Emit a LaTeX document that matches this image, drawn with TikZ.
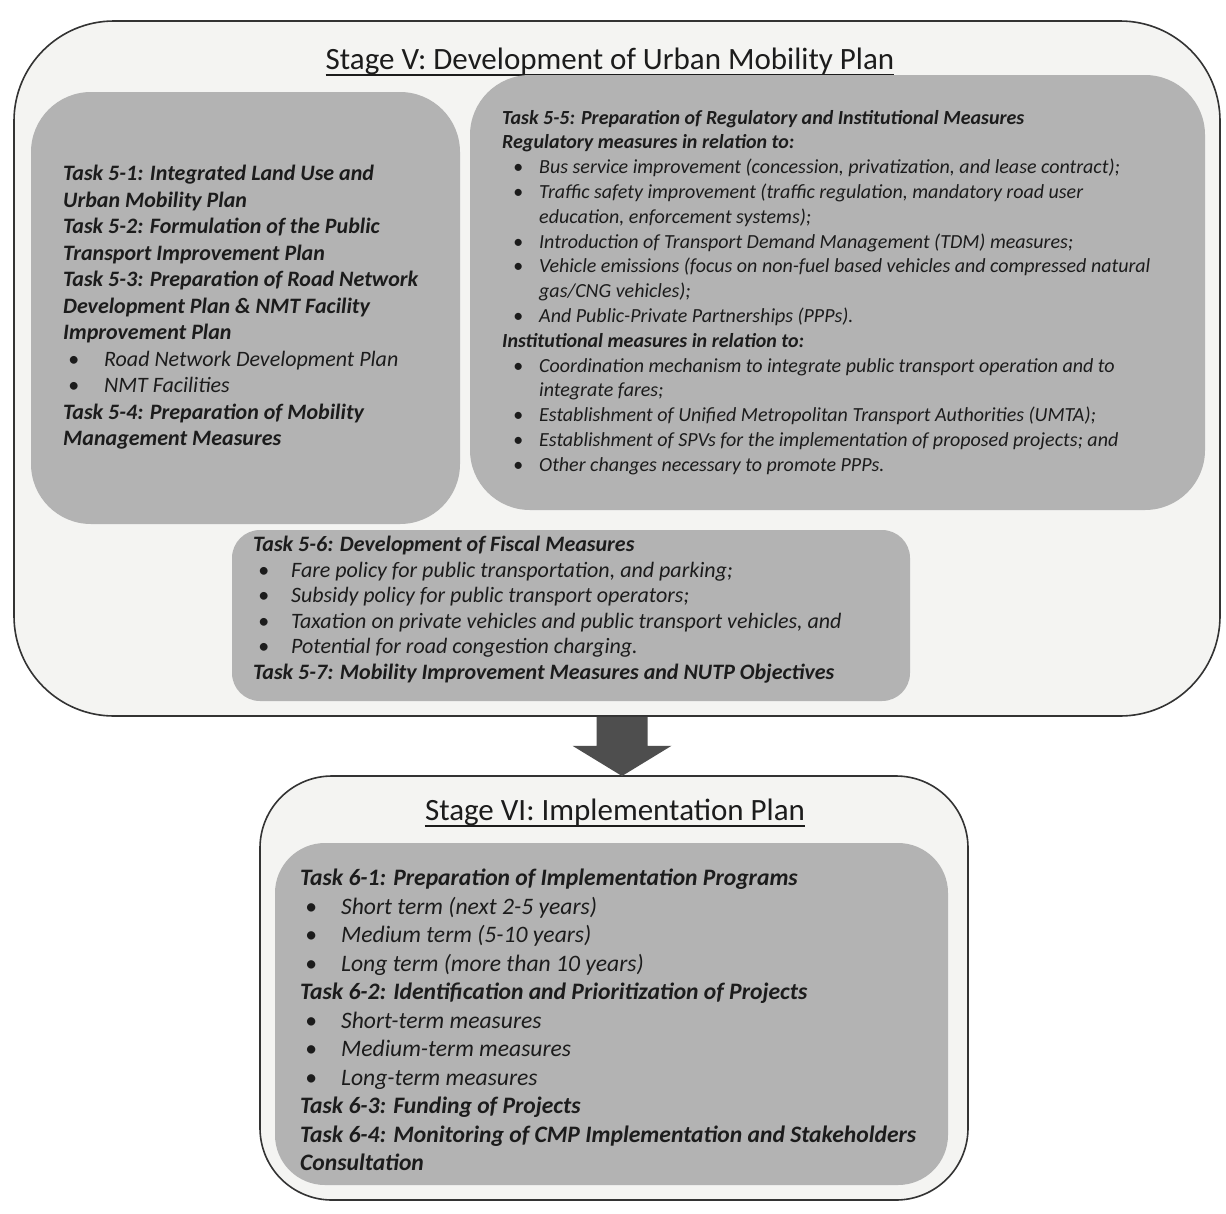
\documentclass[tikz,border=0pt]{standalone}
\usepackage{fontspec}
\setmainfont{Carlito}
\usetikzlibrary{calc}
\definecolor{boxgray}{HTML}{B3B3B3}
\definecolor{paper}{HTML}{F4F4F2}
\definecolor{ink}{HTML}{1C1C1C}
\definecolor{arrowgray}{HTML}{4E4E4E}
\definecolor{framecol}{HTML}{333333}
\newcommand{\mybul}[2]{\hspace*{#1}\makebox[#2][l]{\textbullet}}
\begin{document}
\begin{tikzpicture}[x=1pt,y=-1pt,
  frame/.style={draw=framecol, line width=1.6pt, fill=paper, rounded corners=#1, inner sep=0pt},
  graybox/.style={fill=boxgray, draw=none, rounded corners=#1, inner sep=0pt},
  linetext/.style={anchor=base west, inner sep=0pt, text=ink},
  titletext/.style={anchor=base, font=\fontsize{31}{36}\selectfont, text=ink, inner sep=0pt},
  uline/.style={draw=ink, line width=1.5pt}
]
\useasboundingbox (0,0) rectangle (1226,1213);
\fill[white] (0,0) rectangle (1226,1213);
% ---------------- Stage V ----------------
\node[frame=100, minimum width=1206pt, minimum height=695pt] (s5) at (617,368.5) {};
\node[titletext] (t5) at (610,69) {Stage V: Development of Urban Mobility Plan};
\draw[uline] ([yshift=-6pt]t5.base west) -- ([yshift=-6pt]t5.base east);
\node[graybox=60, minimum width=429pt, minimum height=432pt] (ga) at (245.5,308) {};
\node[graybox=60, minimum width=735pt, minimum height=435pt] (gb) at (837.5,292.5) {};
\node[graybox=28, minimum width=678pt, minimum height=171pt] (gc) at (571,615.5) {};
% text A
\foreach \t [count=\i from 0] in {
  {\textbf{Task 5-1: Integrated Land Use and}},
  {\textbf{Urban Mobility Plan}},
  {\textbf{Task 5-2: Formulation of the Public}},
  {\textbf{Transport Improvement Plan}},
  {\textbf{Task 5-3: Preparation of Road Network}},
  {\textbf{Development Plan \& NMT Facility}},
  {\textbf{Improvement Plan}},
  {\mybul{5pt}{36pt}Road Network Development Plan},
  {\mybul{5pt}{36pt}NMT Facilities},
  {\textbf{Task 5-4: Preparation of Mobility}},
  {\textbf{Management Measures}}}
  \node[linetext, font=\fontsize{22}{26}\selectfont\itshape] (la-\i) at (63,180.6+\i*26.5) {\t};
% text B
\foreach \t [count=\i from 0] in {
  {\textbf{Task 5-5: Preparation of Regulatory and Institutional Measures}},
  {\textbf{Regulatory measures in relation to:}},
  {\mybul{11pt}{26pt}Bus service improvement (concession, privatization, and lease contract);},
  {\mybul{11pt}{26pt}Traffic safety improvement (traffic regulation, mandatory road user},
  {\hspace*{37pt}education, enforcement systems);},
  {\mybul{11pt}{26pt}Introduction of Transport Demand Management (TDM) measures;},
  {\mybul{11pt}{26pt}Vehicle emissions (focus on non-fuel based vehicles and compressed natural},
  {\hspace*{37pt}gas/CNG vehicles);},
  {\mybul{11pt}{26pt}And Public-Private Partnerships (PPPs).},
  {\textbf{Institutional measures in relation to:}},
  {\mybul{11pt}{26pt}Coordination mechanism to integrate public transport operation and to},
  {\hspace*{37pt}integrate fares;},
  {\mybul{11pt}{26pt}Establishment of Unified Metropolitan Transport Authorities (UMTA);},
  {\mybul{11pt}{26pt}Establishment of SPVs for the implementation of proposed projects; and},
  {\mybul{11pt}{26pt}Other changes necessary to promote PPPs.}}
  \node[linetext, font=\fontsize{20}{24}\selectfont\itshape] (lb-\i) at (502,124+\i*24.8) {\t};
% text C
\foreach \t [count=\i from 0] in {
  {\textbf{Task 5-6: Development of Fiscal Measures}},
  {\mybul{5pt}{33pt}Fare policy for public transportation, and parking;},
  {\mybul{5pt}{33pt}Subsidy policy for public transport operators;},
  {\mybul{5pt}{33pt}Taxation on private vehicles and public transport vehicles, and},
  {\mybul{5pt}{33pt}Potential for road congestion charging.},
  {\textbf{Task 5-7: Mobility Improvement Measures and NUTP Objectives}}}
  \node[linetext, font=\fontsize{22}{26}\selectfont\itshape] (lc-\i) at (253,551.6+\i*25.5) {\t};
% ---------------- Stage VI ----------------
\node[frame=72, minimum width=708pt, minimum height=424pt] (s6) at (614,988) {};
\node[titletext] (t6) at (615,820) {Stage VI: Implementation Plan};
\draw[uline] ([yshift=-6pt]t6.base west) -- ([yshift=-6pt]t6.base east);
\node[graybox=50, minimum width=673pt, minimum height=342pt] (gd) at (611.5,1014) {};
\foreach \t [count=\i from 0] in {
  {\textbf{Task 6-1: Preparation of Implementation Programs}},
  {\mybul{5pt}{36pt}Short term (next 2-5 years)},
  {\mybul{5pt}{36pt}Medium term (5-10 years)},
  {\mybul{5pt}{36pt}Long term (more than 10 years)},
  {\textbf{Task 6-2: Identification and Prioritization of Projects}},
  {\mybul{5pt}{36pt}Short-term measures},
  {\mybul{5pt}{36pt}Medium-term measures},
  {\mybul{5pt}{36pt}Long-term measures},
  {\textbf{Task 6-3: Funding of Projects}},
  {\textbf{Task 6-4: Monitoring of CMP Implementation and Stakeholders}},
  {\textbf{Consultation}}}
  \node[linetext, font=\fontsize{23.6}{28}\selectfont\itshape] (ld-\i) at (300,885.6+\i*28.5) {\t};
% ---------------- block arrow from Stage V to Stage VI ----------------
\coordinate (atop) at (s5.south -| 622,0);
\coordinate (atip) at (622,776);
\fill[arrowgray] ($(atop)+(-25.5,0)$) -- ($(atop)+(25.5,0)$) -- ($(atop)+(25.5,29)$)
  -- ($(atop)+(49.5,29)$) -- (atip) -- ($(atop)+(-49.5,29)$) -- ($(atop)+(-25.5,29)$) -- cycle;
\end{tikzpicture}
\end{document}
